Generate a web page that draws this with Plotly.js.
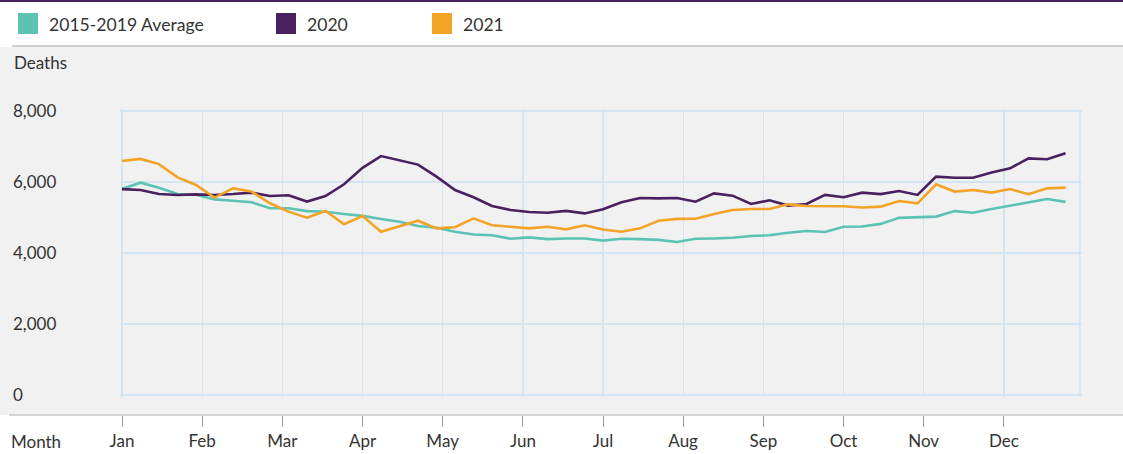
<!DOCTYPE html>
<html>
<head>
<meta charset="utf-8">
<script src="https://cdn.plot.ly/plotly-3.0.1.min.js"></script>
<style>
  html, body { margin: 0; padding: 0; background: #ffffff; }
  #chart { width: 1123px; height: 454px; }
</style>
</head>
<body>
<div id="chart"></div>
<script>
// week index of each weekly point (week 1 = 0)
const weeks = [0, 1, 2, 3, 4, 5, 6, 7, 8, 9, 10, 11, 12, 13, 14, 15, 16, 17, 18, 19, 20, 21, 22, 23, 24, 25,
               26, 27, 28, 29, 30, 31, 32, 33, 34, 35, 36, 37, 38, 39, 40, 41, 42, 43, 44, 45, 46, 47, 48, 49, 50, 51];

const average = [5800, 5980, 5840, 5660, 5640, 5510, 5470, 5430, 5260, 5260, 5180, 5160, 5100, 5045, 4960, 4880, 4760, 4710,
                 4600, 4520, 4500, 4400, 4440, 4390, 4410, 4410, 4350, 4400, 4390, 4370, 4310, 4400, 4410, 4430, 4480, 4500,
                 4570, 4620, 4590, 4740, 4745, 4820, 4990, 5005, 5025, 5180, 5135, 5240, 5340, 5440, 5520, 5440];

const deaths2020 = [5800, 5775, 5660, 5635, 5650, 5635, 5660, 5700, 5605, 5625, 5450, 5605, 5935, 6400, 6730, 6600, 6490, 6150,
                    5775, 5570, 5325, 5210, 5155, 5135, 5185, 5115, 5230, 5430, 5550, 5540, 5550, 5445, 5680, 5615, 5380, 5485,
                    5335, 5380, 5635, 5570, 5700, 5660, 5745, 5635, 6150, 6120, 6120, 6265, 6385, 6665, 6640, 6810];

const deaths2021 = [6590, 6650, 6505, 6130, 5915, 5560, 5820, 5730, 5400, 5165, 4995, 5185, 4810, 5040, 4600, 4760, 4910, 4695,
                    4725, 4975, 4780, 4740, 4695, 4740, 4665, 4780, 4660, 4600, 4695, 4910, 4960, 4965, 5100, 5210, 5240, 5240,
                    5370, 5325, 5325, 5315, 5280, 5305, 5465, 5400, 5935, 5730, 5775, 5700, 5800, 5655, 5820, 5840];

const seriesNames = ['2015-2019 Average', '2020', '2021'];
const seriesColors = ['#5cc3b4', '#4a2060', '#f3a326'];

const monthLabels = ['Jan', 'Feb', 'Mar', 'Apr', 'May', 'Jun', 'Jul', 'Aug', 'Sep', 'Oct', 'Nov', 'Dec'];
const monthStarts = [0, 4.33, 8.67, 13, 17.33, 21.67, 26, 30.33, 34.67, 39, 43.33, 47.67];
const yearEnd = 51.78;

const yTicks = [0, 2000, 4000, 6000, 8000];

// page geometry (pixels)
const W = 1123, H = 454;
const plotTop = 47, plotBottom = 415;
const px = function(x) { return x / W; };
const py = function(y) { return (plotBottom - y) / (plotBottom - plotTop); };

const textColor = '#333333';
const gridColor = '#d2e5f1';
const fontFamily = 'Lato, "Open Sans", sans-serif';

let values = [average, deaths2020, deaths2021];
let data = [];
for (let i = 0; i < values.length; i++) {
    data.push({
        x: weeks,
        y: values[i],
        name: seriesNames[i],
        type: 'scatter',
        mode: 'lines',
        line: { color: seriesColors[i], width: 2.6 },
        hoverinfo: 'x+y'
    });
}

// legend drawn as squares + labels along the top strip
const legendX = [18, 276, 432];
let shapes = [
    { type: 'rect', xref: 'paper', yref: 'paper', x0: 0, x1: 1, y0: 0, y1: 1,
      fillcolor: '#f1f1f1', line: { width: 0 }, layer: 'below' },
    { type: 'line', xref: 'paper', yref: 'paper', x0: px(9), x1: 1, y0: 0, y1: 0,
      line: { color: '#c9c9c9', width: 1.5 } },
    { type: 'line', xref: 'paper', yref: 'paper', x0: px(12), x1: 1, y0: py(46), y1: py(46),
      line: { color: '#cfcfcf', width: 2 } },
    { type: 'line', xref: 'paper', yref: 'paper', x0: 0, x1: 1, y0: py(1), y1: py(1),
      line: { color: '#4a2060', width: 2 } },
    { type: 'line', xref: 'x', yref: 'y', x0: yearEnd, x1: yearEnd, y0: 0, y1: 8000,
      line: { color: gridColor, width: 1.5 }, layer: 'below' }
];
let annotations = [
    { text: 'Deaths', xref: 'paper', yref: 'paper', x: px(12), y: py(62), xanchor: 'left', yanchor: 'middle',
      showarrow: false, font: { size: 17, color: textColor } },
    { text: 'Month', xref: 'paper', yref: 'paper', x: px(9), y: py(441), xanchor: 'left', yanchor: 'middle',
      showarrow: false, font: { size: 17, color: textColor } }
];
for (let i = 0; i < seriesNames.length; i++) {
    shapes.push({ type: 'rect', xref: 'paper', yref: 'paper',
        x0: px(legendX[i]), x1: px(legendX[i] + 20), y0: py(13), y1: py(34),
        fillcolor: seriesColors[i], line: { width: 0 } });
    annotations.push({ text: seriesNames[i], xref: 'paper', yref: 'paper',
        x: px(legendX[i] + 29), y: py(24), xanchor: 'left', yanchor: 'middle',
        showarrow: false, font: { size: 17.6, color: textColor } });
}

let layout = {
    width: W,
    height: H,
    margin: { l: 0, r: 0, t: plotTop, b: H - plotBottom, pad: 0 },
    paper_bgcolor: '#ffffff',
    plot_bgcolor: '#f1f1f1',
    font: { family: fontFamily, color: textColor },
    showlegend: false,
    xaxis: {
        // a small pad either side keeps the Jan gridline from being dropped at the edge
        domain: [px(120), px(1082)],
        range: [-0.108, yearEnd + 0.108],
        anchor: 'free',
        position: 0,
        tickvals: monthStarts,
        ticktext: monthLabels,
        ticks: 'outside',
        ticklen: 11,
        tickwidth: 1,
        tickcolor: '#9a9a9a',
        showline: false,
        zeroline: false,
        showgrid: true,
        gridcolor: gridColor,
        gridwidth: 1.2,
        tickfont: { size: 17, color: textColor },
        fixedrange: true
    },
    yaxis: {
        domain: [py(397), py(109)],
        range: [-56, 8056],
        anchor: 'free',
        position: px(9),
        tickvals: yTicks,
        tickformat: ',d',
        ticks: '',
        ticklabelposition: 'inside',
        ticklabeloverflow: 'allow',
        showline: false,
        zeroline: false,
        showgrid: true,
        gridcolor: gridColor,
        gridwidth: 1.2,
        tickfont: { size: 17, color: textColor },
        fixedrange: true
    },
    shapes: shapes,
    annotations: annotations
};

Plotly.newPlot('chart', data, layout, { displayModeBar: false, staticPlot: true });
</script>
</body>
</html>
